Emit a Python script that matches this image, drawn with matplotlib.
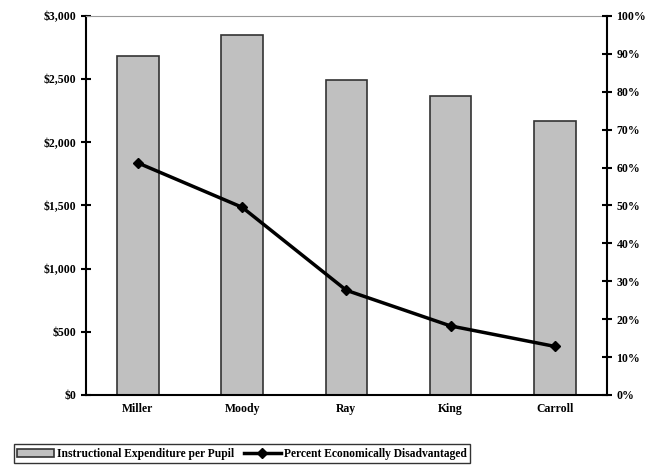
import numpy as np
import matplotlib.pyplot as plt
from matplotlib.ticker import FuncFormatter

# datos
schools = ['Miller', 'Moody', 'Ray', 'King', 'Carroll']
expenditure = [2680, 2850, 2490, 2365, 2170]
pct_disadv = [61.2, 49.5, 27.6, 18.2, 12.8]

plt.rcParams['font.family'] = ['Liberation Serif', 'DejaVu Serif']
plt.rcParams['font.weight'] = 'bold'

fig = plt.figure(figsize=(6.56, 4.69), dpi=100)
ax = fig.add_axes([0.131, 0.158, 0.794, 0.808])
x = np.arange(len(schools))

bars = ax.bar(x, expenditure, width=0.4, color='#c0c0c0', edgecolor='#333333',
              linewidth=1.2, label='Instructional Expenditure per Pupil')
ax.set_ylim(0, 3000)
ax.set_xlim(-0.5, len(schools) - 0.5)
ax.set_yticks(np.arange(0, 3001, 500))
ax.yaxis.set_major_formatter(FuncFormatter(lambda v, p: '${:,.0f}'.format(v)))
ax.set_xticks(x)
ax.set_xticklabels(schools)
ax.tick_params(axis='y', direction='inout', length=7, width=1.5, labelsize=8.5)
ax.tick_params(axis='x', length=0, labelsize=8.5, pad=6)
ax.spines['top'].set_color('#999999')
ax.spines['right'].set_visible(False)
for s in ['left', 'bottom']:
    ax.spines[s].set_linewidth(1.5)

ax2 = ax.twinx()
line, = ax2.plot(x, pct_disadv, color='black', linewidth=2.5, marker='D',
                 markersize=5, label='Percent Economically Disadvantaged')
ax2.set_ylim(0, 100)
ax2.set_yticks(np.arange(0, 101, 10))
ax2.yaxis.set_major_formatter(FuncFormatter(lambda v, p: '{:.0f}%'.format(v)))
ax2.tick_params(axis='y', direction='inout', length=7, width=1.5, labelsize=8.5)
ax2.spines['right'].set_linewidth(1.5)
ax2.spines['top'].set_visible(False)
ax2.spines['left'].set_visible(False)
ax2.spines['bottom'].set_visible(False)

leg = fig.legend(handles=[bars, line], loc='lower left', bbox_to_anchor=(0.012, 0.0),
                 ncol=2, fontsize=8.3, frameon=True, fancybox=False,
                 borderpad=0.3, handlelength=3.2, columnspacing=0.8, handletextpad=0.3)
leg.get_frame().set_edgecolor('black')
leg.get_frame().set_linewidth(1.0)

fig.savefig('out.png', dpi=100)
